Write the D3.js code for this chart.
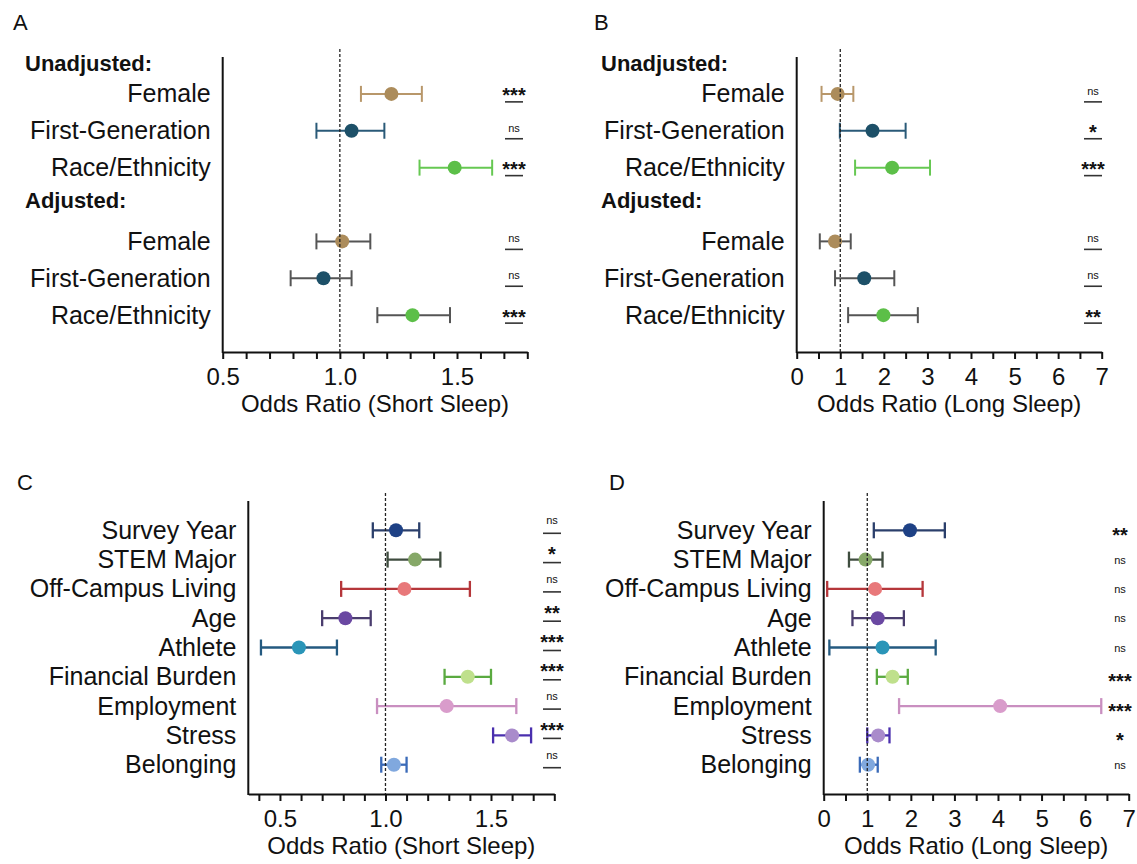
<!DOCTYPE html>
<html>
<head>
<meta charset="utf-8">
<script src="https://cdn.jsdelivr.net/npm/d3@7"></script>
<style>
  body { margin: 0; background: #fff; }
  svg { display: block; font-family: "Liberation Sans", Arial, Helvetica, sans-serif; }
</style>
</head>
<body>
<svg id="canvas" width="1137" height="864"></svg>
<script>
// - panels A/B: unadjusted + adjusted odds ratios for three factors
// - panels C/D: multivariable model, nine factors
// - values are odds ratio, lower CI, upper CI, significance label

let groupLabels = ["Unadjusted:", "Adjusted:"];
let factorsAB = ["Female", "First-Generation", "Race/Ethnicity", "Female", "First-Generation", "Race/Ethnicity"];
let rowIndexAB = [0, 1, 2, 4, 5, 6];

let orA = [1.22, 1.05, 1.49, 1.01, 0.93, 1.31];
let loA = [1.09, 0.90, 1.34, 0.90, 0.79, 1.16];
let hiA = [1.35, 1.19, 1.65, 1.13, 1.05, 1.47];
let sigA = ["***", "ns", "***", "ns", "ns", "***"];

let orB = [0.94, 1.74, 2.19, 0.88, 1.55, 1.99];
let loB = [0.57, 0.99, 1.34, 0.53, 0.88, 1.18];
let hiB = [1.30, 2.50, 3.06, 1.24, 2.24, 2.78];
let sigB = ["ns", "*", "***", "ns", "ns", "**"];

let factorsCD = ["Survey Year", "STEM Major", "Off-Campus Living", "Age", "Athlete",
  "Financial Burden", "Employment", "Stress", "Belonging"];

let orC = [1.05, 1.14, 1.09, 0.81, 0.59, 1.39, 1.29, 1.60, 1.04];
let loC = [0.94, 1.01, 0.79, 0.70, 0.41, 1.28, 0.96, 1.51, 0.98];
let hiC = [1.16, 1.26, 1.40, 0.93, 0.77, 1.50, 1.62, 1.69, 1.10];
let sigC = ["ns", "*", "ns", "**", "***", "***", "ns", "***", "ns"];

let orD = [1.98, 0.96, 1.18, 1.24, 1.35, 1.58, 4.05, 1.25, 1.02];
let loD = [1.15, 0.58, 0.08, 0.66, 0.13, 1.22, 1.73, 1.00, 0.83];
let hiD = [2.78, 1.35, 2.27, 1.84, 2.57, 1.93, 6.37, 1.51, 1.24];
let sigD = ["**", "ns", "ns", "ns", "ns", "***", "***", "*", "ns"];

// tick values and labels
let ticksShort = [0.4, 0.5, 0.6, 0.7, 0.8, 0.9, 1.0, 1.1, 1.2, 1.3, 1.4, 1.5, 1.6, 1.7, 1.8];
let tickLabelValsShort = [0.5, 1.0, 1.5];
let tickLabelsShort = ["0.5", "1.0", "1.5"];
let ticksLong = [0, 0.5, 1, 1.5, 2, 2.5, 3, 3.5, 4, 4.5, 5, 5.5, 6, 6.5, 7];
let tickLabelValsLong = [0, 1, 2, 3, 4, 5, 6, 7];
let tickLabelsLong = ["0", "1", "2", "3", "4", "5", "6", "7"];

// colours
let dotAB = ["#ac8c5b", "#1d5068", "#5cbf48", "#ac8c5b", "#1d5068", "#5cbf48"];
let barAB = ["#b8976a", "#2a5a78", "#66c852", "#555555", "#555555", "#555555"];
let dotCD = ["#1e4185", "#86a868", "#e8787a", "#6a48a2", "#2a95b8", "#bfe08c", "#d99ccb", "#a98bcb", "#80a8de"];
let barCD = ["#2b3f6b", "#3f4d3f", "#b5363a", "#4a3d6e", "#245a80", "#5aaa40", "#c98fc0", "#4a2fae", "#3a6ab8"];

let canvas = d3.select("#canvas");

let drawPanel = (p) => {
  let g = canvas.append("g");
  let x = d3.scaleLinear().domain(p.domain).range([p.left, p.right]);
  let y = d3.scaleLinear().domain([-1, p.nRows]).range([p.top, p.bottom]);

  // panel letter
  g.append("text").attr("x", p.letterX).attr("y", p.letterY)
    .attr("font-size", 22).attr("fill", "#111").text(p.letter);

  // x axis
  let axis = d3.axisBottom(x)
    .tickValues(p.ticks)
    .tickSizeInner(7)
    .tickSizeOuter(0)
    .tickPadding(9)
    .tickFormat((d) => {
      let i = p.labelVals.findIndex((v) => Math.abs(v - d) < 1e-6);
      return i < 0 ? "" : p.labelText[i];
    });
  let ax = g.append("g")
    .attr("transform", "translate(0," + p.bottom + ")")
    .call(axis)
    .attr("font-size", null).attr("font-family", null);
  ax.select(".domain").attr("stroke", "#111").attr("stroke-width", 2);
  ax.selectAll(".tick line").attr("stroke", "#111").attr("stroke-width", 2);
  ax.selectAll(".tick text").attr("font-size", 24).attr("fill", "#111");

  // y axis line
  g.append("line")
    .attr("x1", p.left).attr("x2", p.left)
    .attr("y1", p.top).attr("y2", p.bottom + 1)
    .attr("stroke", "#111").attr("stroke-width", 2);

  // axis title
  g.append("text")
    .attr("x", (p.left + p.right) / 2).attr("y", p.bottom + 60)
    .attr("text-anchor", "middle").attr("font-size", 24).attr("fill", "#111")
    .text(p.title);

  // group headers
  if (p.headers) {
    p.headers.forEach((h, i) => {
      g.append("text").attr("x", p.headerX).attr("y", y(p.headerIdx[i]) + 7)
        .attr("font-size", 22).attr("font-weight", "bold").attr("fill", "#111")
        .text(h);
    });
  }

  let rows = p.factors.map((f, i) => ({
    name: f, idx: p.rowIdx[i], or: p.or[i], lo: p.lo[i], hi: p.hi[i],
    sig: p.sig[i], dot: p.dotColors[i], bar: p.barColors[i]
  }));

  // category labels
  g.selectAll(".cat").data(rows).enter().append("text")
    .attr("class", "cat")
    .attr("x", p.left - 12).attr("y", (d) => y(d.idx) + 8.5)
    .attr("text-anchor", "end").attr("font-size", 25).attr("fill", "#111")
    .text((d) => d.name);

  // error bars
  let bars = g.selectAll(".bar").data(rows).enter().append("g").attr("class", "bar")
    .attr("stroke", (d) => d.bar).attr("stroke-width", p.barWidth);
  bars.append("line")
    .attr("x1", (d) => x(d.lo)).attr("x2", (d) => x(d.hi))
    .attr("y1", (d) => y(d.idx)).attr("y2", (d) => y(d.idx));
  bars.append("line")
    .attr("x1", (d) => x(d.lo)).attr("x2", (d) => x(d.lo))
    .attr("y1", (d) => y(d.idx) - 8).attr("y2", (d) => y(d.idx) + 8);
  bars.append("line")
    .attr("x1", (d) => x(d.hi)).attr("x2", (d) => x(d.hi))
    .attr("y1", (d) => y(d.idx) - 8).attr("y2", (d) => y(d.idx) + 8);

  // points
  g.selectAll(".pt").data(rows).enter().append("circle")
    .attr("class", "pt")
    .attr("cx", (d) => x(d.or)).attr("cy", (d) => y(d.idx))
    .attr("r", 7).attr("fill", (d) => d.dot);

  // reference line at OR = 1
  g.append("line")
    .attr("x1", x(1)).attr("x2", x(1))
    .attr("y1", p.top - 8).attr("y2", p.bottom)
    .attr("stroke", "#222").attr("stroke-width", 1.3).attr("stroke-dasharray", "3,2");

  // significance labels
  rows.forEach((d) => {
    let cy = y(d.idx) + p.sigDy;
    let isNs = d.sig === "ns";
    g.append("text")
      .attr("x", p.sigX).attr("y", cy + (isNs ? 4 : 11.5))
      .attr("text-anchor", "middle")
      .attr("font-size", isNs ? 11 : 20)
      .attr("font-weight", isNs ? "normal" : "bold")
      .attr("fill", "#111")
      .text(d.sig);
    if (p.underline) {
      g.append("line")
        .attr("x1", p.sigX - 9).attr("x2", p.sigX + 9)
        .attr("y1", y(d.idx) + p.lineDy).attr("y2", y(d.idx) + p.lineDy)
        .attr("stroke", "#333").attr("stroke-width", 1.6);
    }
  });
};

drawPanel({
  letter: "A", letterX: 13, letterY: 30,
  left: 222.7, right: 527.3, top: 57, bottom: 352, nRows: 7,
  domain: [0.5, 1.8], ticks: ticksShort.slice(1), labelVals: tickLabelValsShort, labelText: tickLabelsShort,
  title: "Odds Ratio (Short Sleep)",
  headers: groupLabels, headerIdx: [-0.8, 2.9], headerX: 25,
  factors: factorsAB, rowIdx: rowIndexAB, or: orA, lo: loA, hi: hiA, sig: sigA,
  dotColors: dotAB, barColors: barAB, barWidth: 2,
  sigX: 514, sigDy: -3, underline: true, lineDy: 8
});

drawPanel({
  letter: "B", letterX: 594, letterY: 30,
  left: 796.7, right: 1101.7, top: 57, bottom: 352, nRows: 7,
  domain: [0, 7], ticks: ticksLong, labelVals: tickLabelValsLong, labelText: tickLabelsLong,
  title: "Odds Ratio (Long Sleep)",
  headers: groupLabels, headerIdx: [-0.8, 2.9], headerX: 601,
  factors: factorsAB, rowIdx: rowIndexAB, or: orB, lo: loB, hi: hiB, sig: sigB,
  dotColors: dotAB, barColors: barAB, barWidth: 2,
  sigX: 1093, sigDy: -3, underline: true, lineDy: 8
});

drawPanel({
  letter: "C", letterX: 17, letterY: 490,
  left: 248.3, right: 554.3, top: 501, bottom: 794, nRows: 9,
  domain: [0.35, 1.8], ticks: ticksShort, labelVals: tickLabelValsShort, labelText: tickLabelsShort,
  title: "Odds Ratio (Short Sleep)",
  factors: factorsCD, rowIdx: d3.range(9), or: orC, lo: loC, hi: hiC, sig: sigC,
  dotColors: dotCD, barColors: barCD, barWidth: 2.3,
  sigX: 552, sigDy: -10, underline: true, lineDy: 3
});

drawPanel({
  letter: "D", letterX: 609, letterY: 490,
  left: 823.7, right: 1128.7, top: 501, bottom: 794, nRows: 9,
  domain: [0, 7], ticks: ticksLong, labelVals: tickLabelValsLong, labelText: tickLabelsLong,
  title: "Odds Ratio (Long Sleep)",
  factors: factorsCD, rowIdx: d3.range(9), or: orD, lo: loD, hi: hiD, sig: sigD,
  dotColors: dotCD, barColors: barCD, barWidth: 2.3,
  sigX: 1120, sigDy: 0, underline: false, lineDy: 0
});
</script>
</body>
</html>
